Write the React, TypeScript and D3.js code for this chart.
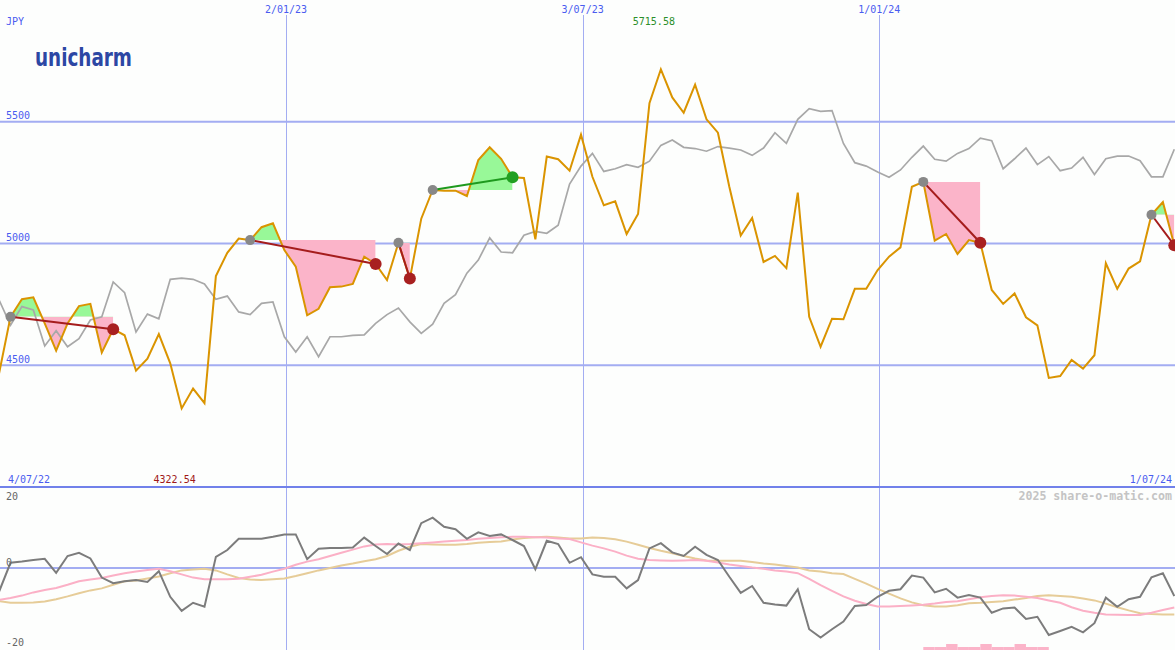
import React from "react";
import * as d3 from "d3";

const W = 1175;
const H = 650;

// weekly closes (JPY)
const price = [4467, 4699, 4771, 4779, 4672, 4560, 4672, 4743, 4752, 4552, 4648, 4623, 4478, 4527, 4628, 4508, 4322.54, 4404, 4344, 4866, 4962, 5020, 5014, 5067, 5083, 4973, 4905, 4705, 4732, 4820, 4823, 4834, 4946, 4916, 4850, 5003, 4856, 5102, 5220, 5217, 5217, 5195, 5343, 5395, 5348, 5272, 5269, 5017, 5357, 5346, 5299, 5447, 5274, 5157, 5173, 5039, 5121, 5576, 5715.58, 5600, 5537, 5652, 5510, 5455, 5233, 5033, 5105, 4924, 4949, 4899, 5209, 4699, 4576, 4691, 4689, 4814, 4814, 4891, 4946, 4984, 5233, 5253, 5012, 5039, 4957, 5014, 5003, 4809, 4752, 4795, 4697, 4664, 4448, 4456, 4522, 4486, 4541, 4919, 4814, 4897, 4927, 5118, 5170, 4993];

// benchmark index rebased to price
const bench = [4768, 4665, 4741, 4727, 4579, 4642, 4576, 4609, 4686, 4699, 4842, 4798, 4637, 4710, 4691, 4853, 4858, 4853, 4834, 4771, 4784, 4719, 4708, 4754, 4760, 4617, 4554, 4617, 4535, 4617, 4617, 4623, 4625, 4672, 4708, 4735, 4678, 4631, 4669, 4754, 4790, 4878, 4932, 5023, 4965, 4962, 5034, 5050, 5042, 5075, 5244, 5318, 5370, 5296, 5307, 5324, 5313, 5338, 5403, 5425, 5395, 5390, 5379, 5398, 5392, 5384, 5362, 5392, 5455, 5411, 5510, 5554, 5543, 5546, 5411, 5332, 5318, 5294, 5272, 5302, 5354, 5400, 5346, 5338, 5370, 5390, 5433, 5422, 5307, 5348, 5392, 5324, 5357, 5299, 5310, 5354, 5283, 5348, 5359, 5359, 5340, 5274, 5274, 5387];

// oscillators (lower panel)
const momentum = [-5.9, 1.3, 1.6, 2.0, 2.3, -1.2, 3.0, 3.8, 2.4, -2.4, -3.8, -3.3, -3.0, -3.5, -0.8, -7.2, -10.7, -8.7, -9.7, 2.8, 4.5, 7.3, 7.3, 7.3, 7.8, 8.4, 8.4, 2.2, 4.8, 5.0, 5.0, 5.1, 7.6, 5.5, 3.5, 6.1, 4.5, 11.2, 12.6, 10.3, 9.7, 7.3, 8.9, 8.0, 8.4, 7.0, 5.5, -0.3, 6.8, 6.0, 1.3, 2.7, -1.6, -2.2, -2.2, -5.1, -3.0, 4.9, 6.2, 3.9, 3.0, 5.3, 3.3, 2.0, -2.2, -6.2, -4.5, -8.7, -9.1, -9.4, -5.3, -15.3, -17.4, -15.3, -13.4, -9.5, -9.25, -7.2, -5.7, -5.3, -1.9, -2.4, -6.1, -5.2, -7.4, -6.75, -7.4, -11.2, -10.1, -9.9, -12.75, -12.2, -16.75, -15.75, -14.7, -16.1, -13.8, -7.4, -9.7, -7.8, -7.2, -2.3, -1.3, -7.0];
const pinkOsc = [-8.0, -7.5, -6.9, -6.1, -5.5, -5.0, -4.2, -3.3, -2.9, -2.5, -1.9, -1.3, -0.9, -0.5, -0.2, -0.8, -1.6, -2.4, -2.8, -2.8, -2.8, -2.7, -2.2, -1.7, -0.9, -0.2, 0.8, 1.6, 2.2, 3.0, 3.8, 4.6, 5.4, 5.9, 6.0, 5.9, 6.0, 6.2, 6.4, 6.6, 6.8, 7.0, 7.3, 7.5, 7.7, 7.8, 7.8, 7.7, 7.6, 7.4, 7.25, 6.4, 5.6, 4.9, 4.1, 3.1, 2.3, 2.0, 1.9, 1.8, 1.9, 2.0, 1.8, 1.4, 0.9, 0.5, 0.1, -0.2, -0.6, -0.9, -1.3, -2.7, -4.3, -5.7, -7.1, -8.2, -9.0, -9.6, -9.6, -9.5, -9.35, -9.2, -8.9, -8.5, -8.3, -7.8, -7.3, -7.0, -6.8, -6.9, -7.2, -7.5, -8.1, -8.7, -9.8, -10.7, -11.2, -11.6, -11.7, -11.75, -11.75, -11.2, -10.5, -9.9];
const tanOsc = [-8.3, -8.7, -8.7, -8.6, -8.4, -7.8, -7.1, -6.3, -5.6, -5.1, -4.2, -3.3, -3.1, -2.6, -2.1, -1.3, -0.6, -0.4, -0.2, -0.6, -1.6, -2.5, -2.9, -3.0, -2.8, -2.6, -2.0, -1.3, -0.6, 0.0, 0.6, 1.1, 1.7, 2.2, 3.0, 4.3, 5.3, 6.0, 5.9, 5.8, 5.8, 6.0, 6.3, 6.5, 6.6, 7.1, 7.5, 7.7, 7.8, 7.6, 7.4, 7.4, 7.6, 7.5, 7.2, 6.6, 5.8, 5.0, 4.3, 3.7, 3.0, 2.4, 1.9, 1.8, 1.8, 1.8, 1.5, 1.1, 0.9, 0.5, 0.1, -0.6, -0.9, -1.3, -1.5, -2.7, -3.9, -5.2, -6.4, -7.6, -8.6, -9.3, -9.6, -9.6, -9.3, -8.8, -8.7, -8.5, -8.3, -7.9, -7.5, -7.0, -6.8, -7.0, -7.2, -7.6, -8.1, -8.9, -9.8, -10.6, -11.3, -11.5, -11.6, -11.6];

// signal bars at bottom of the lower panel
const barStart = 81;
const barLevels = [1, 1, 2, 1, 1, 2, 1, 1, 2, 1, 1];

// trend segments: start index, end index
const segStarts = [1, 22, 35, 38, 81, 101];
const segEnds = [10, 33, 36, 45, 86, 103];

const priceTicks = [4500, 5000, 5500];
const oscTicks = [20, 0, -20];
const dateLines = ["2023-01-02", "2023-07-03", "2024-01-01"];
const dateLineLabels = ["2/01/23", "3/07/23", "1/01/24"];
const firstLabel = "4/07/22";
const lastLabel = "1/07/24";

const START = new Date(2022, 6, 10);
const dates = price.map((_, i) => d3.timeDay.offset(START, 7 * i));

const BLUE_TXT = "#4a5cf0";
const GRID = "#a3adf2";
const FONT = "'DejaVu Sans Mono', monospace";

export default function App() {
  const x = d3.scaleTime().domain([dates[0], dates[dates.length - 1]]).range([-0.9, 1174.3]);
  const yP = d3.scaleLinear().domain([4000, 6000]).range([487, 0]);
  const yO = d3.scaleLinear().domain([-20, 20]).range([648, 488]);

  const idx = price.map((_, i) => i);
  const xi = (i: number) => x(dates[i]);

  const priceLine = d3.line<number>().x(xi).y((i) => yP(price[i]))(idx) as string;
  const benchLine = d3.line<number>().x(xi).y((i) => yP(bench[i]))(idx) as string;
  const momLine = d3.line<number>().x(xi).y((i) => yO(momentum[i]))(idx) as string;
  const pinkLine = d3.line<number>().x(xi).y((i) => yO(pinkOsc[i]))(idx) as string;
  const tanLine = d3.line<number>().x(xi).y((i) => yO(tanOsc[i]))(idx) as string;

  const maxI = d3.maxIndex(price);
  const minI = d3.minIndex(price);

  const segs = segStarts.map((s, k) => {
    const e = segEnds[k];
    const level = price[s];
    const ids = d3.range(s, e + 1);
    const area = d3
      .area<number>()
      .x(xi)
      .y0(yP(level))
      .y1((i) => yP(price[i]))(ids) as string;
    const up = price[e] >= level;
    return { s, e, level, area, up, k };
  });

  return (
    <svg
      width={W}
      height={H}
      style={{ position: "absolute", left: 0, top: 0, background: "#fdfefd" }}
    >
      <defs>
        <clipPath id="topPanel">
          <rect x={0} y={0} width={W} height={487} />
        </clipPath>
        <clipPath id="botPanel">
          <rect x={0} y={488} width={W} height={H - 488} />
        </clipPath>
        {segs.map((sg) => (
          <React.Fragment key={sg.k}>
            <clipPath id={`g${sg.k}`}>
              <rect x={xi(sg.s)} y={0} width={xi(sg.e) - xi(sg.s)} height={yP(sg.level)} />
            </clipPath>
            <clipPath id={`p${sg.k}`}>
              <rect
                x={xi(sg.s)}
                y={yP(sg.level)}
                width={xi(sg.e) - xi(sg.s)}
                height={487 - yP(sg.level)}
              />
            </clipPath>
          </React.Fragment>
        ))}
      </defs>
      <rect x={0} y={0} width={W} height={H} fill="#fdfefd" />

      {/* grid */}
      {priceTicks.map((t) => (
        <line key={t} x1={0} x2={W} y1={yP(t)} y2={yP(t)} stroke={GRID} strokeWidth={2} />
      ))}
      <line x1={0} x2={W} y1={yO(0)} y2={yO(0)} stroke={GRID} strokeWidth={2} />
      {dateLines.map((d) => {
        const xx = Math.round(x(new Date(d + "T00:00:00"))) + 0.5;
        return <line key={d} x1={xx} x2={xx} y1={15} y2={H} stroke={GRID} strokeWidth={1} />;
      })}
      <line x1={0} x2={W} y1={487} y2={487} stroke="#7181ea" strokeWidth={2} />

      {/* segment fills */}
      <g clipPath="url(#topPanel)">
        {segs.map((sg) => (
          <React.Fragment key={sg.k}>
            <path d={sg.area} fill="#98f898" clipPath={`url(#g${sg.k})`} />
            <path d={sg.area} fill="#fbb4c9" clipPath={`url(#p${sg.k})`} />
          </React.Fragment>
        ))}
        <path d={benchLine} fill="none" stroke="#a8a8a8" strokeWidth={1.7} />
        <path d={priceLine} fill="none" stroke="#da9400" strokeWidth={2} />
        {segs.map((sg) => (
          <line
            key={sg.k}
            x1={xi(sg.s)}
            y1={yP(price[sg.s])}
            x2={xi(sg.e)}
            y2={yP(price[sg.e])}
            stroke={sg.up ? "#1e9a1e" : "#a51c1c"}
            strokeWidth={2}
          />
        ))}
        {segs.map((sg) => (
          <React.Fragment key={sg.k}>
            <circle cx={xi(sg.s)} cy={yP(price[sg.s])} r={5} fill="#888888" />
            <circle
              cx={xi(sg.e)}
              cy={yP(price[sg.e])}
              r={6}
              fill={sg.up ? "#22a022" : "#a82020"}
            />
          </React.Fragment>
        ))}
      </g>

      {/* lower panel */}
      <g clipPath="url(#botPanel)">
        {barLevels.map((lv, k) => {
          const i = barStart + k;
          const h = lv * 3;
          return (
            <rect
              key={k}
              x={xi(i)}
              y={H - h}
              width={xi(i + 1) - xi(i)}
              height={h}
              fill="#fbb4c9"
            />
          );
        })}
        <path d={tanLine} fill="none" stroke="#e6cc98" strokeWidth={2} />
        <path d={pinkLine} fill="none" stroke="#fbb0c6" strokeWidth={2} />
        <path d={momLine} fill="none" stroke="#7c7c7c" strokeWidth={2} />
      </g>

      {/* text */}
      <g fontFamily={FONT} fontSize={10}>
        <text x={6} y={25} fill={BLUE_TXT}>JPY</text>
        {priceTicks.map((t) => (
          <text key={t} x={6} y={yP(t) - 2.5} fill={BLUE_TXT}>
            {t}
          </text>
        ))}
        {dateLines.map((d, k) => (
          <text
            key={d}
            x={x(new Date(d + "T00:00:00"))}
            y={13}
            fill={BLUE_TXT}
            textAnchor="middle"
          >
            {dateLineLabels[k]}
          </text>
        ))}
        <text x={8} y={483} fill={BLUE_TXT}>{firstLabel}</text>
        <text x={1172} y={483} fill={BLUE_TXT} textAnchor="end">{lastLabel}</text>
        <text x={xi(maxI) - 7} y={25} fill="#2a8f2a" textAnchor="middle">
          {price[maxI].toFixed(2)}
        </text>
        <text x={xi(minI) - 7} y={483} fill="#a01818" textAnchor="middle">
          {price[minI].toFixed(2)}
        </text>
        {oscTicks.map((t) => (
          <text key={t} x={6} y={Math.max(yO(t) - 2, 500)} fill="#666666">
            {t}
          </text>
        ))}
        <text
          x={1172}
          y={500}
          fill="#c4c4c4"
          textAnchor="end"
          fontSize={11.6}
          fontWeight="bold"
        >
          2025 share-o-matic.com
        </text>
      </g>

      {/* logo */}
      <text
        x={35}
        y={66}
        fontFamily="'DejaVu Sans', sans-serif"
        fontWeight="bold"
        fontSize={25}
        fill="#2c47a4"
        textLength={97}
        lengthAdjust="spacingAndGlyphs"
      >
        unicharm
      </text>
    </svg>
  );
}
